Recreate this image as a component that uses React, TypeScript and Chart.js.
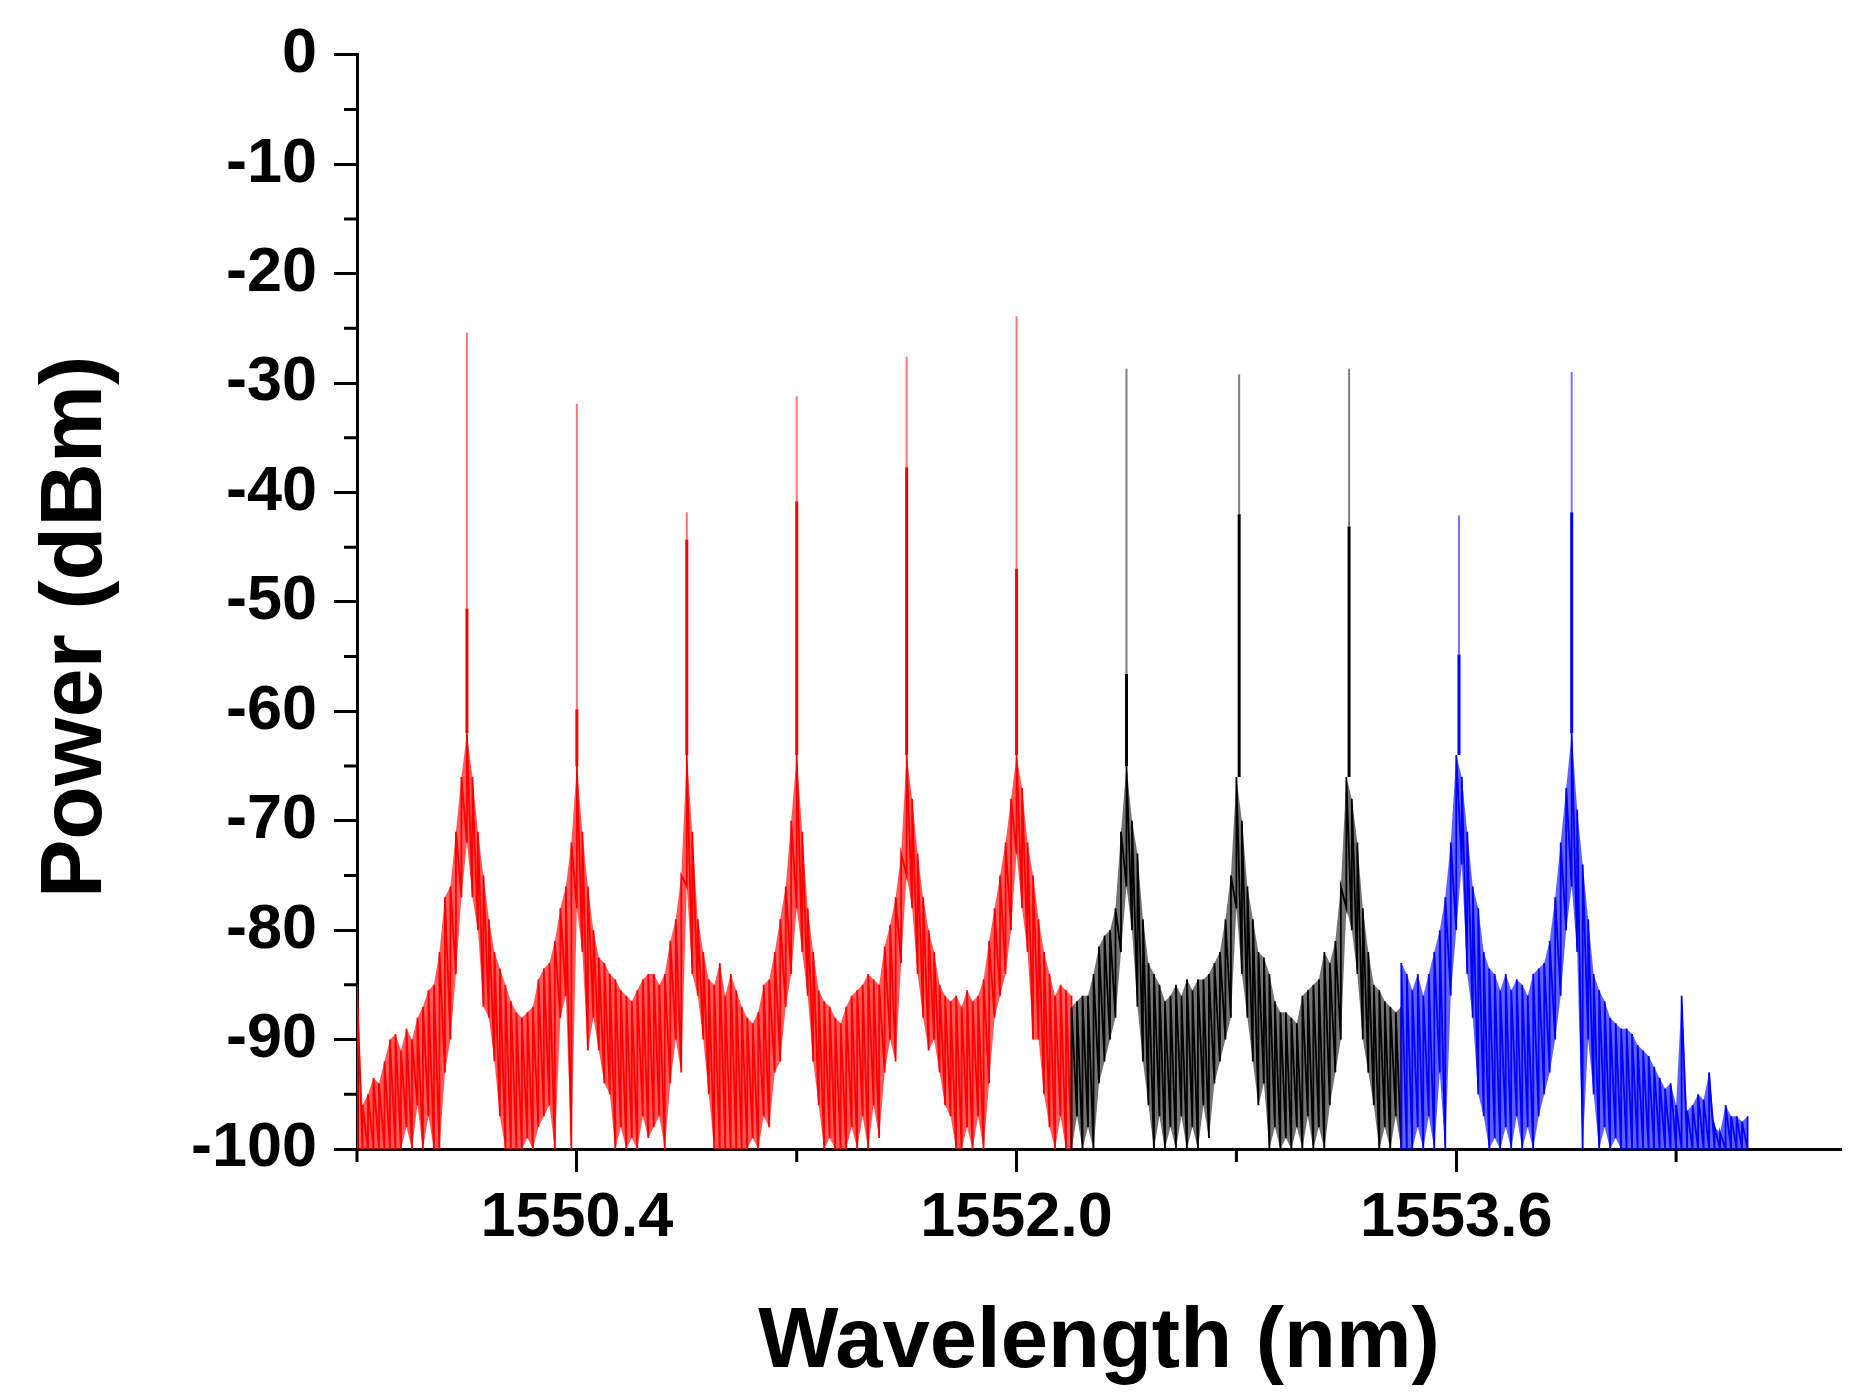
import { useEffect, useRef } from "react";
import { Chart, registerables } from "chart.js";

Chart.register(...registerables);

// OSA trace, sampled every 0.02 nm: upper and lower edge of the noisy trace (dBm)
const sampleStep = 0.02;

// red band 1549.60 .. 1552.20
const redStart = 1549.6;
const redHi = [
  -85, -96, -95, -93.5, -94, -92, -90, -89.5, -91, -89, -90, -88, -87, -85.5, -85, -82, -77, -76, -71, -66,
  -62, -66, -71, -75, -79, -82, -83.5, -85, -86.5, -87.5, -88, -87.5, -87, -84.5, -83.5, -83, -81, -78, -76, -72,
  -65, -71, -76, -80, -82.5, -83, -84, -84.5, -85.5, -86, -86.5, -85.5, -84.5, -84, -84,
  -85, -84, -81, -79, -75, -64, -71, -79, -82, -84.5, -85, -83, -86, -84, -85.5, -87, -88, -88.5, -87.5, -85,
  -84.5, -82, -79, -76, -70, -64, -71, -78, -82, -85.5, -86.5, -87, -88, -88.5, -87, -86, -85.5, -85, -84, -84.5,
  -85, -81.5, -79.5, -77, -73, -64, -68, -73, -77, -80, -82, -85, -86, -86.5,
  -86, -87, -85.5, -86.5, -86, -84.5, -81, -78, -75, -72, -68, -64, -67, -72, -75, -79, -82, -84, -86, -85,
  -85.5, -86
];
const redLo = [
  -100, -100, -100, -100, -100, -100, -100, -100, -100, -98, -100, -96, -100, -97, -100, -100, -93, -90, -84, -77,
  -72, -77, -80, -87, -88, -92, -97, -100, -100, -100, -100, -99, -100, -98, -97, -96, -100, -88, -86, -100,
  -78, -82, -91, -88, -91, -94, -95, -100, -98, -100, -99, -100, -97, -99, -98,
  -97, -100, -94, -90, -93, -76, -84, -86, -90, -95, -100, -100, -100, -100, -100, -100, -100, -99, -100, -97,
  -98, -93, -92, -87, -84, -78, -82, -86, -92, -96, -100, -99, -100, -100, -100, -98, -100, -97, -100, -96,
  -99, -93, -90, -92, -83, -75, -78, -84, -88, -91, -90, -93, -96, -97,
  -100, -100, -98, -100, -97, -100, -94, -88, -86, -84, -80, -73, -78, -82, -90, -90, -95, -98, -100, -97,
  -100, -100
];

// black band 1552.20 .. 1553.40
const blackStart = 1552.2;
const blackHi = [
  -87, -86.5, -86, -86, -84, -81.5, -80.5, -80, -78, -71, -65, -70, -73, -79, -83, -84, -85, -86.5, -86, -85,
  -86, -84.5, -85.5, -84.5, -84.5, -84, -83, -82, -79, -75, -66,
  -70, -76, -79, -82, -82.5, -84, -86.5, -87.5, -87.5, -88, -88.5, -86, -85.5, -85, -84.5, -82, -83, -81, -76,
  -66, -68, -72, -78, -82, -85, -85.5, -86.5, -87, -87.5, -87
];
const blackLo = [
  -100, -97, -100, -98, -100, -94, -92, -90, -88, -82, -76, -80, -87, -92, -96, -100, -97, -100, -98, -100,
  -97, -100, -98, -100, -96, -99, -94, -92, -90, -88, -78,
  -84, -88, -92, -96, -94, -100, -98, -100, -99, -100, -98, -100, -97, -100, -98, -100, -96, -93, -90,
  -78, -80, -84, -90, -93, -96, -100, -98, -100, -97, -100
];

// blue band 1553.40 .. 1554.66
const blueStart = 1553.4;
const blueHi = [
  -83, -84, -85.5, -84, -86, -84, -82, -80, -77, -72, -64, -66, -71, -76, -78, -82, -83.5, -84, -85.5, -84,
  -85.5, -84.5, -85, -86, -84, -83.5,
  -83, -81, -77, -72, -67, -62, -69, -74, -79, -84, -85.5, -86.5, -88, -88.5, -89, -89, -89.5, -90.5, -91, -91.5,
  -92.5, -93.5, -94.5, -94, -96, -86, -96.5, -96, -95, -95.5, -93, -98, -98.5, -96, -97, -97, -97.5, -97
];
const blueLo = [
  -100, -100, -100, -98, -100, -97, -100, -93, -100, -86, -80, -74, -84, -88, -95, -97, -100, -99, -100, -98,
  -100, -97, -100, -98, -100, -97,
  -95, -93, -90, -86, -80, -76, -82, -100, -90, -95, -100, -98, -100, -99, -100, -100, -100, -100, -100, -100,
  -100, -100, -100, -100, -100, -100, -100, -100, -100, -100, -100, -100, -100, -100, -100, -100, -100, -100
];

// laser lines: wavelength, top of the spike, level where the spike gets thick
const redPeakNm = [1550.0, 1550.4, 1550.8, 1551.2, 1551.6, 1552.0];
const redPeakTop = [-25.4, -31.9, -41.8, -31.2, -27.6, -23.9];
const redPeakMid = [-50.6, -59.8, -44.3, -40.8, -37.7, -47.0];
const blackPeakNm = [1552.4, 1552.81, 1553.21];
const blackPeakTop = [-28.7, -29.2, -28.7];
const blackPeakMid = [-56.6, -42.0, -43.1];
const bluePeakNm = [1553.61, 1554.02];
const bluePeakTop = [-42.1, -29.0];
const bluePeakMid = [-54.8, -41.8];

const xTickValues = [1550.4, 1552.0, 1553.6];
const xTickLabels = ["1550.4", "1552.0", "1553.6"];
const xMinorTicks = [1549.6, 1551.2, 1552.8, 1554.4];
const yTickValues = [0, -10, -20, -30, -40, -50, -60, -70, -80, -90, -100];
const yTickLabels = ["0", "-10", "-20", "-30", "-40", "-50", "-60", "-70", "-80", "-90", "-100"];
const yMinorTicks = [-5, -15, -25, -35, -45, -55, -65, -75, -85, -95];
const yTitle = "Power (dBm)";

const FONT = "'Liberation Sans', Arial, sans-serif";

type Pt = { x: number; y: number | null };

const nmAt = (start: number, i: number) => +(start + i * sampleStep).toFixed(2);

// each sample becomes a vertical stroke lo -> hi, so the trace looks like the OSA noise
function trace(start: number, hi: number[], lo: number[]): Pt[] {
  const pts: Pt[] = [];
  hi.forEach((h, i) => {
    const x = nmAt(start, i);
    pts.push({ x, y: lo[i] }, { x, y: h });
  });
  return pts;
}

function edge(start: number, vals: number[]): Pt[] {
  return vals.map((y, i) => ({ x: nmAt(start, i), y }));
}

function footOf(start: number, hi: number[], x: number) {
  const i = Math.min(hi.length - 1, Math.max(0, Math.round((x - start) / sampleStep)));
  return hi[i];
}

function spikes(nm: number[], from: number[], to: number[]): Pt[] {
  const pts: Pt[] = [];
  nm.forEach((x, i) => {
    pts.push({ x, y: from[i] }, { x, y: to[i] }, { x, y: null });
  });
  return pts;
}

const minorTicks = {
  id: "minorTicks",
  afterDraw(chart: any) {
    const { ctx, chartArea } = chart;
    const x = chart.scales.x;
    const y = chart.scales.y;
    ctx.save();
    ctx.strokeStyle = "#000";
    ctx.lineWidth = 3;
    ctx.beginPath();
    xMinorTicks.forEach((v) => {
      const px = x.getPixelForValue(v);
      ctx.moveTo(px, chartArea.bottom);
      ctx.lineTo(px, chartArea.bottom + 13);
    });
    yMinorTicks.forEach((v) => {
      const py = y.getPixelForValue(v);
      ctx.moveTo(chartArea.left, py);
      ctx.lineTo(chartArea.left - 13, py);
    });
    ctx.stroke();
    // y title, sitting a little below the axis centre as in the original figure
    ctx.translate(77, 627);
    ctx.rotate(-Math.PI / 2);
    ctx.fillStyle = "#000";
    ctx.font = `bold 88px ${FONT}`;
    ctx.textAlign = "center";
    ctx.textBaseline = "middle";
    ctx.fillText(yTitle, 0, 0);
    ctx.restore();
  }
};

export default function App() {
  const chartRef = useRef<HTMLCanvasElement | null>(null);

  useEffect(() => {
    document.body.style.margin = "0";
    if (!chartRef.current) return;

    const redFoot = redPeakNm.map((x) => footOf(redStart, redHi, x));
    const blackFoot = blackPeakNm.map((x) => footOf(blackStart, blackHi, x));
    const blueFoot = bluePeakNm.map((x) => footOf(blueStart, blueHi, x));

    const line = (data: Pt[], color: string, width: number) => ({
      data,
      borderColor: color,
      borderWidth: width,
      pointRadius: 0,
      tension: 0,
      spanGaps: false,
      fill: false
    });
    const band = (data: Pt[], color: string) => ({
      data,
      borderWidth: 0,
      borderColor: "rgba(0,0,0,0)",
      backgroundColor: color,
      pointRadius: 0,
      tension: 0,
      fill: "+1"
    });
    const floor = (data: Pt[]) => ({
      data,
      borderWidth: 0,
      borderColor: "rgba(0,0,0,0)",
      pointRadius: 0,
      tension: 0,
      fill: false
    });

    const chart = new Chart(chartRef.current, {
      type: "line",
      data: {
        datasets: [
          line(spikes(redPeakNm, redPeakMid, redPeakTop), "rgba(255,0,0,0.55)", 2),
          line(spikes(blackPeakNm, blackPeakMid, blackPeakTop), "rgba(0,0,0,0.5)", 2),
          line(spikes(bluePeakNm, bluePeakMid, bluePeakTop), "rgba(0,0,255,0.55)", 2),
          line(spikes(redPeakNm, redFoot, redPeakMid), "#ff0000", 3),
          line(spikes(blackPeakNm, blackFoot, blackPeakMid), "#000000", 3),
          line(spikes(bluePeakNm, blueFoot, bluePeakMid), "#0000ff", 3),
          line(trace(blueStart, blueHi, blueLo), "#0000ff", 1.8),
          line(trace(blackStart, blackHi, blackLo), "#000000", 1.8),
          line(trace(redStart, redHi, redLo), "#ff0000", 1.8),
          band(edge(blueStart, blueHi), "rgba(0,0,255,0.62)"),
          floor(edge(blueStart, blueLo)),
          band(edge(blackStart, blackHi), "rgba(0,0,0,0.55)"),
          floor(edge(blackStart, blackLo)),
          band(edge(redStart, redHi), "rgba(255,0,0,0.65)"),
          floor(edge(redStart, redLo))
        ] as any
      },
      options: {
        animation: false,
        responsive: true,
        maintainAspectRatio: false,
        devicePixelRatio: 1,
        layout: { padding: { left: 0, right: 27, top: 53, bottom: 0 } },
        plugins: {
          legend: { display: false },
          tooltip: { enabled: false }
        },
        scales: {
          x: {
            type: "linear",
            min: 1549.6,
            max: 1555.0,
            afterBuildTicks: (s: any) => {
              s.ticks = xTickValues.map((value) => ({ value }));
            },
            afterFit: (s: any) => {
              s.height = 251;
            },
            ticks: {
              callback: (_v: any, i: number) => xTickLabels[i],
              color: "#000",
              padding: 9,
              maxRotation: 0,
              autoSkip: false,
              font: { family: FONT, size: 63, weight: "bold" }
            },
            grid: {
              drawOnChartArea: false,
              drawTicks: true,
              tickLength: 23,
              tickWidth: 3,
              tickColor: "#000"
            },
            border: { display: true, color: "#000", width: 3 },
            title: {
              display: true,
              text: "Wavelength (nm)",
              color: "#000",
              padding: { top: 0, bottom: 5 },
              font: { family: FONT, size: 85, weight: "bold" }
            }
          },
          y: {
            type: "linear",
            min: -100,
            max: 0,
            afterBuildTicks: (s: any) => {
              s.ticks = yTickValues.map((value) => ({ value }));
            },
            afterFit: (s: any) => {
              s.width = 357;
            },
            ticks: {
              callback: (_v: any, i: number) => yTickLabels[i],
              color: "#000",
              padding: 17,
              font: { family: FONT, size: 63, weight: "bold" }
            },
            grid: {
              drawOnChartArea: false,
              drawTicks: true,
              tickLength: 23,
              tickWidth: 3,
              tickColor: "#000"
            },
            border: { display: true, color: "#000", width: 3 },
            title: { display: false }
          }
        }
      },
      plugins: [minorTicks]
    });

    return () => chart.destroy();
  }, []);

  return (
    <div style={{ width: 1868, height: 1400, position: "relative", background: "#fff" }}>
      <canvas ref={chartRef} />
    </div>
  );
}
